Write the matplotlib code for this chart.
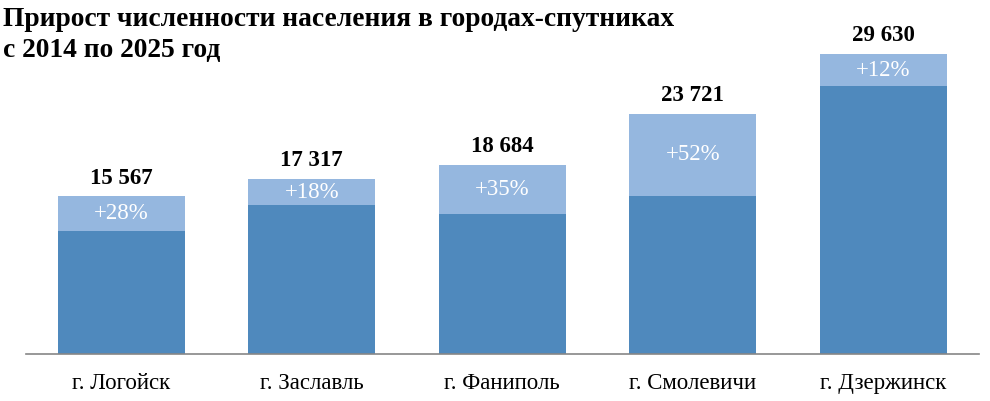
import matplotlib
matplotlib.use('Agg')
import matplotlib.pyplot as plt

cities = ['г. Логойск', 'г. Заславль', 'г. Фаниполь', 'г. Смолевичи', 'г. Дзержинск']
total_2025 = [15567, 17317, 18684, 23721, 29630]
growth_pct = [28, 18, 35, 52, 12]
title_lines = ['Прирост численности населения в городах-спутниках', 'с 2014 по 2025 год']

# население 2014 выводим из итога и прироста
base_2014 = [t / (1 + p / 100) for t, p in zip(total_2025, growth_pct)]
increase = [t - b for t, b in zip(total_2025, base_2014)]

plt.rcParams['font.family'] = ['Liberation Serif', 'DejaVu Serif']

fig = plt.figure(figsize=(9.9, 4.01), dpi=100)
ax = fig.add_axes([26 / 990, 47 / 401, 952.5 / 990, 324 / 401])

x = list(range(len(cities)))
ax.bar(x, base_2014, width=0.667, color='#4F89BD')
ax.bar(x, increase, width=0.667, bottom=base_2014, color='#95B7DF')

for i in x:
    ax.annotate(f'{total_2025[i]:,}'.replace(',', ' '), (i, total_2025[i]),
                xytext=(0, 9), textcoords='offset points', ha='center',
                va='baseline', fontsize=16.5, fontweight='bold', color='black')
    ax.text(i, base_2014[i] + increase[i] / 2, f'+{growth_pct[i]}%',
            ha='center', va='center', fontsize=16.5, color='white')

ax.set_xlim(-0.5, 4.5)
ax.set_ylim(0, 32000)
ax.set_xticks(x)
ax.set_xticklabels(cities, fontsize=16.5)
ax.tick_params(axis='x', length=0, pad=14)
ax.set_yticks([])
for s in ['top', 'right', 'left']:
    ax.spines[s].set_visible(False)
ax.spines['bottom'].set_color('#868686')
ax.spines['bottom'].set_linewidth(1.2)

fig.text(3 / 990, 1 - 26 / 401, title_lines[0], ha='left', va='baseline',
         fontsize=19.8, fontweight='bold')
fig.text(3 / 990, 1 - 57 / 401, title_lines[1], ha='left', va='baseline',
         fontsize=19.8, fontweight='bold')

fig.savefig('out.png', dpi=100)
